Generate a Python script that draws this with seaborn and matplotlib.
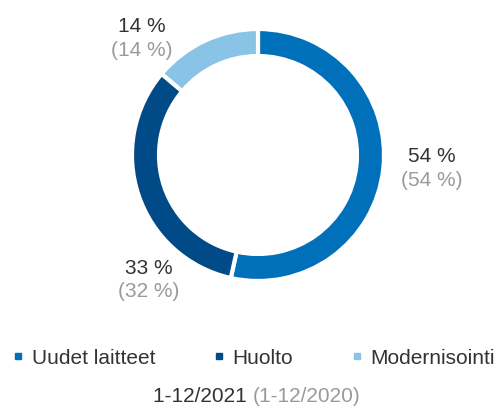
import matplotlib
matplotlib.use("Agg")
import matplotlib.pyplot as plt
from matplotlib.lines import Line2D
import seaborn as sns

categories = ["Uudet laitteet", "Huolto", "Modernisointi"]
values_2021 = [54, 33, 14]
values_2020 = [54, 32, 14]
colors = ["#0070BA", "#004B87", "#89C4E6"]
title_current = "1-12/2021"
title_previous = "(1-12/2020)"

sns.set_theme(style="white")
plt.rcParams["font.family"] = ["Liberation Sans", "DejaVu Sans"]

W, H = 496, 410
fig = plt.figure(figsize=(W / 100, H / 100), dpi=100)
ax = fig.add_axes([0, 0, 1, 1])

cx, cy, R = 258, H - 156, 126
palette = sns.color_palette(colors)
ax.pie(values_2021, colors=palette, startangle=90, counterclock=False,
       center=(cx, cy), radius=R, frame=True,
       wedgeprops=dict(width=27, edgecolor="white", linewidth=3))
ax.set_xlim(0, W)
ax.set_ylim(0, H)
ax.set_aspect("equal")
ax.axis("off")

dark = "#333333"
grey = "#9a9a9a"
fs_lab = 15
fs = 15
label_pos = [(432, 157), (149, 268), (142, 26)]
for (x, y), v1, v0 in zip(label_pos, values_2021, values_2020):
    ax.text(x, H - y, f"{v1} %", ha="center", va="center", fontsize=fs_lab, color=dark)
    ax.text(x, H - y - 24, f"({v0} %)", ha="center", va="center", fontsize=fs_lab, color=grey)

handles = [Line2D([], [], marker="s", linestyle="", markersize=5, color=c) for c in palette]
fig.legend(handles, categories, ncol=3, loc="center left", bbox_to_anchor=(12 / W, 1 - 359 / H),
           frameon=False, fontsize=fs, labelcolor=dark, handlelength=0.6,
           handletextpad=0.35, columnspacing=2.75, borderaxespad=0, borderpad=0)

t1 = ax.text(0, 0, title_current + " ", fontsize=fs, color=dark)
fig.canvas.draw()
r = fig.canvas.get_renderer()
bb1 = t1.get_window_extent(r)
t2 = ax.text(0, 0, title_previous, fontsize=fs, color=grey)
bb2 = t2.get_window_extent(r)
total = bb1.width + bb2.width
x0 = 257 - total / 2
t1.set_position((x0, H - 397))
t1.set_va("center")
t2.set_position((x0 + bb1.width, H - 397))
t2.set_va("center")

fig.savefig("out.png", dpi=100)
